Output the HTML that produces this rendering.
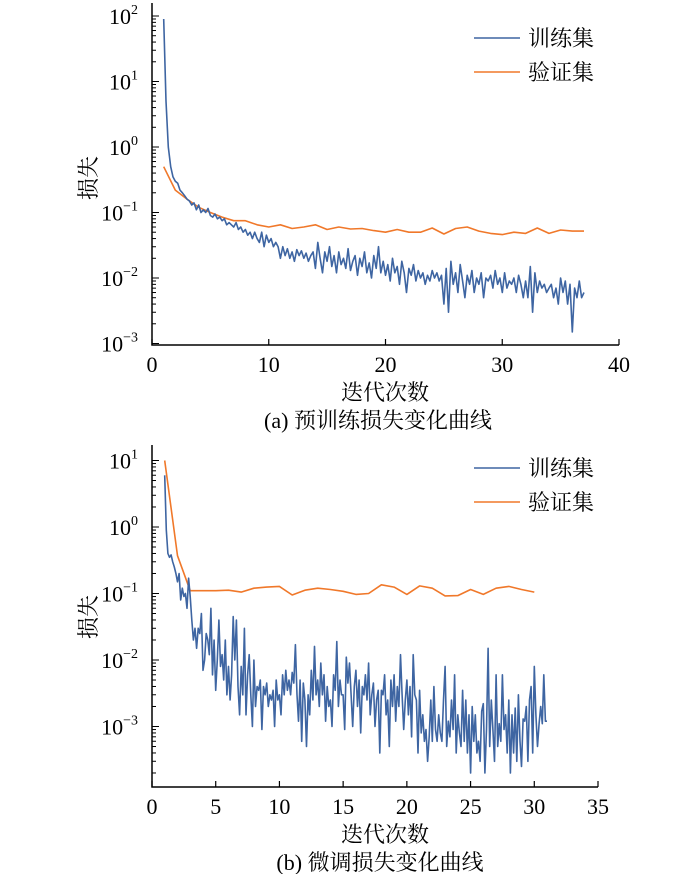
<!DOCTYPE html>
<html><head><meta charset="utf-8"><style>
body{margin:0;background:#fff}
svg{display:block;font-family:"Liberation Serif","Noto Serif CJK SC","Noto Sans CJK SC",serif}
</style></head><body>
<svg id="svg" width="700" height="874" viewBox="0 0 700 874"></svg>
<script>
// ---- data: chart (a) pretraining ----
const aTrainStart = 1, aTrainStep = 0.2;
const aTrain = [90,5,1.0,0.5,0.35,
0.3,0.28,0.22,0.2,0.18, 0.16,0.15,0.13,0.14,0.11, 0.13,0.1,0.11,0.1,0.115,
0.09,0.085,0.095,0.08,0.085, 0.075,0.08,0.065,0.07,0.065, 0.06,0.07,0.055,0.06,0.05,
0.055,0.045,0.05,0.04,0.05, 0.04,0.035,0.05,0.03,0.045, 0.035,0.04,0.03,0.035,0.03,
0.02,0.03,0.022,0.028,0.02, 0.025,0.018,0.027,0.022,0.026, 0.02,0.024,0.018,0.022,0.025,
0.014,0.035,0.02,0.012,0.025, 0.018,0.03,0.015,0.022,0.012, 0.025,0.016,0.02,0.014,0.028,
0.013,0.018,0.022,0.011,0.02, 0.015,0.025,0.012,0.017,0.01, 0.022,0.014,0.03,0.012,0.018,
0.011,0.016,0.009,0.02,0.012, 0.015,0.008,0.018,0.012,0.006, 0.014,0.011,0.016,0.009,0.013,
0.01,0.012,0.008,0.011,0.009, 0.013,0.01,0.012,0.009,0.011, 0.004,0.014,0.003,0.018,0.008,
0.012,0.006,0.016,0.009,0.005, 0.011,0.008,0.013,0.006,0.01, 0.008,0.012,0.005,0.01,0.009,
0.011,0.007,0.013,0.008,0.01, 0.006,0.012,0.007,0.009,0.008, 0.01,0.006,0.011,0.008,0.005,
0.009,0.005,0.015,0.003,0.012, 0.006,0.009,0.007,0.008,0.006, 0.007,0.008,0.005,0.007,0.004,
0.01,0.006,0.009,0.004,0.008, 0.0015,0.007,0.005,0.009,0.005, 0.006];
const aValEpochs = [1,2,3,4,5,6,7,8,9,10,11,12,13,14,15,16,17,18,19,20,21,22,23,24,25,26,27,28,29,30,31,32,33,34,35,36,37];
const aVal = [0.5,0.22,0.16,0.12,0.1,0.085,0.075,0.075,0.065,0.06,0.065,0.057,0.06,0.065,0.055,0.06,0.056,0.057,0.053,0.05,0.055,0.05,0.05,0.058,0.047,0.057,0.06,0.052,0.048,0.046,0.05,0.048,0.058,0.048,0.054,0.052,0.052];
const aXTicks = [0,10,20,30,40];
const aYExp = [2,1,0,-1,-2,-3];
// ---- data: chart (b) finetuning ----
const bTrainStart = 1, bTrainStep = 0.125;
const bTrain = [6,0.9,0.4,0.35,0.38,0.3,0.25,0.2,
0.15,0.2,0.08,0.12,0.09,0.1,0.06,0.17,
0.09,0.04,0.02,0.03,0.015,0.03,0.025,0.05,
0.007,0.01,0.025,0.02,0.012,0.06,0.006,0.02,
0.0035,0.01,0.04,0.008,0.012,0.005,0.02,0.003,
0.008,0.0025,0.006,0.045,0.01,0.04,0.004,0.0015,
0.008,0.003,0.03,0.0015,0.006,0.012,0.003,0.001,
0.01,0.002,0.004,0.0035,0.005,0.0009,0.004,0.003,
0.0045,0.002,0.003,0.0025,0.0035,0.001,0.005,0.0025,
0.003,0.0015,0.006,0.003,0.007,0.0035,0.005,0.003,
0.0065,0.0045,0.017,0.003,0.0012,0.005,0.0006,0.0045,
0.0025,0.0005,0.003,0.0015,0.007,0.0025,0.016,0.003,
0.005,0.002,0.009,0.003,0.006,0.0012,0.004,0.002,
0.0025,0.001,0.006,0.0035,0.019,0.002,0.005,0.003,
0.003,0.0009,0.011,0.0045,0.009,0.003,0.001,0.004,
0.007,0.002,0.005,0.0008,0.004,0.003,0.006,0.0025,
0.009,0.0015,0.003,0.0045,0.001,0.0025,0.0035,0.0004,
0.0035,0.003,0.006,0.0015,0.0025,0.0005,0.005,0.002,
0.006,0.0012,0.004,0.002,0.012,0.003,0.0009,0.0025,
0.005,0.0015,0.004,0.0007,0.012,0.003,0.0025,0.0004,
0.0035,0.0008,0.0015,0.0006,0.0009,0.0003,0.0007,0.0025,
0.0006,0.004,0.0009,0.0006,0.0015,0.0008,0.0006,0.0025,
0.008,0.0005,0.0012,0.0007,0.0025,0.0009,0.006,0.0004,
0.0015,0.0008,0.0005,0.0035,0.0006,0.0025,0.0004,0.0015,
0.0002,0.002,0.0006,0.0015,0.0004,0.0006,0.0003,0.0017,
0.0022,0.0002,0.0009,0.015,0.0005,0.0025,0.0009,0.0003,
0.006,0.0005,0.0011,0.0006,0.006,0.0009,0.0015,0.0004,
0.0025,0.0002,0.0015,0.0004,0.0019,0.0003,0.003,0.0006,
0.00025,0.0013,0.0012,0.002,0.0003,0.0025,0.004,0.0004,
0.008,0.0015,0.0005,0.0011,0.002,0.0011,0.006,0.0012,
0.0012];
const bValEpochs = [1,2,3,4,5,6,7,8,9,10,11,12,13,14,15,16,17,18,19,20,21,22,23,24,25,26,27,28,29,30];
const bVal = [10,0.37,0.11,0.11,0.11,0.112,0.105,0.12,0.125,0.128,0.095,0.112,0.12,0.115,0.108,0.097,0.1,0.135,0.125,0.097,0.13,0.12,0.092,0.093,0.115,0.097,0.12,0.128,0.115,0.105];
const bXTicks = [0,5,10,15,20,25,30,35];
const bYExp = [1,0,-1,-2,-3];

const NS="http://www.w3.org/2000/svg";
const svg=document.getElementById('svg');
function mk(tag,attrs,parent){const e=document.createElementNS(NS,tag);for(const k in attrs)e.setAttribute(k,attrs[k]);(parent||svg).appendChild(e);return e;}

function chart(o){
  const g=mk('g',{});
  
  
  const X=v=>o.x0+(v-o.xmin)/(o.xmax-o.xmin)*(o.x1-o.x0);
  const Y=v=>o.yRef+(o.refExp-Math.log10(v))*o.dec;
  // axes
  const ax=mk('path',{d:`M${o.x0},${o.top}V${o.bot}H${o.x1}`,fill:'none',stroke:'#000','stroke-width':1.5},g);
  
  
  // x ticks
  o.xticks.forEach(t=>{
    mk('line',{x1:X(t),x2:X(t),y1:o.bot,y2:o.bot-6,stroke:'#000','stroke-width':1.2},g);
    const tx=mk('text',{x:X(t),y:o.bot+27,'font-size':22,'text-anchor':'middle'},g);
    tx.textContent=t;
    
    
  });
  // y ticks
  const eMin=Math.min(...o.yexp), eMax=Math.max(...o.yexp);
  for(let e=eMin-1;e<=eMax;e++){
    for(let m=1;m<10;m++){
      const v=m*Math.pow(10,e); const y=Y(v);
      if(y<o.top||y>o.bot)continue;
      mk('line',{x1:o.x0,x2:o.x0+(m===1?7:4),y1:y,y2:y,stroke:'#000','stroke-width':1},g);
    }
  }
  o.yexp.forEach(e=>{
    const t=mk('text',{x:o.x0-14,y:Y(Math.pow(10,e))+8,'font-size':22,'text-anchor':'end'},g);
    
    
    t.textContent='10';
    const s=mk('tspan',{dy:-10,'font-size':14},t);s.textContent=(e<0?'\u2212':'')+Math.abs(e);
  });
  // series
  const line=(xs,ys,color,name)=>{
    const p=mk('polyline',{points:xs.map((x,i)=>X(x).toFixed(1)+','+Y(ys[i]).toFixed(1)).join(' '),fill:'none',stroke:color,'stroke-width':1.6,'stroke-linejoin':'round'},g);
    
    
  };
  line(o.valX,o.val,'#f0782a','validation-line');
  line(o.train.map((_,i)=>o.tStart+i*o.tStep),o.train,'#3e65a2','train-line');
  // legend
  [['训练集','#3e65a2',o.legY],['验证集','#f0782a',o.legY+34]].forEach(([lab,c,y],i)=>{
    mk('line',{x1:474,x2:520,y1:y,y2:y,stroke:c,'stroke-width':1.6},g);
    const t=mk('text',{x:528,y:y+8,'font-size':22},g);t.textContent=lab;
    
    
  });
  // labels
  const yl=mk('text',{x:0,y:0,'font-size':22,'text-anchor':'middle',transform:`translate(96,${o.ylabY}) rotate(-90)`},g);
  yl.textContent='损失';
  
  
  const xl=mk('text',{x:385,y:o.bot+55,'font-size':22,'text-anchor':'middle'},g);
  xl.textContent='迭代次数';
  
  
  const cp=mk('text',{x:o.capX,y:o.bot+83,'font-size':22,'text-anchor':'middle'},g);
  cp.textContent=o.caption;
  
  
}
chart({name:'chart-pretrain',x0:152,x1:619,xmin:0,xmax:40,top:3,bot:345,yRef:16,refExp:2,dec:65.5,
  xticks:aXTicks,yexp:aYExp,train:aTrain,tStart:aTrainStart,tStep:aTrainStep,valX:aValEpochs,val:aVal,
  legY:38,ylabY:178,caption:'(a)  预训练损失变化曲线',capX:378});
chart({name:'chart-finetune',x0:152,x1:598,xmin:0,xmax:35,top:445,bot:787,yRef:460.5,refExp:1,dec:66.5,
  xticks:bXTicks,yexp:bYExp,train:bTrain,tStart:bTrainStart,tStep:bTrainStep,valX:bValEpochs,val:bVal,
  legY:468,ylabY:617,caption:'(b)  微调损失变化曲线',capX:380});
</script>
</body></html>
